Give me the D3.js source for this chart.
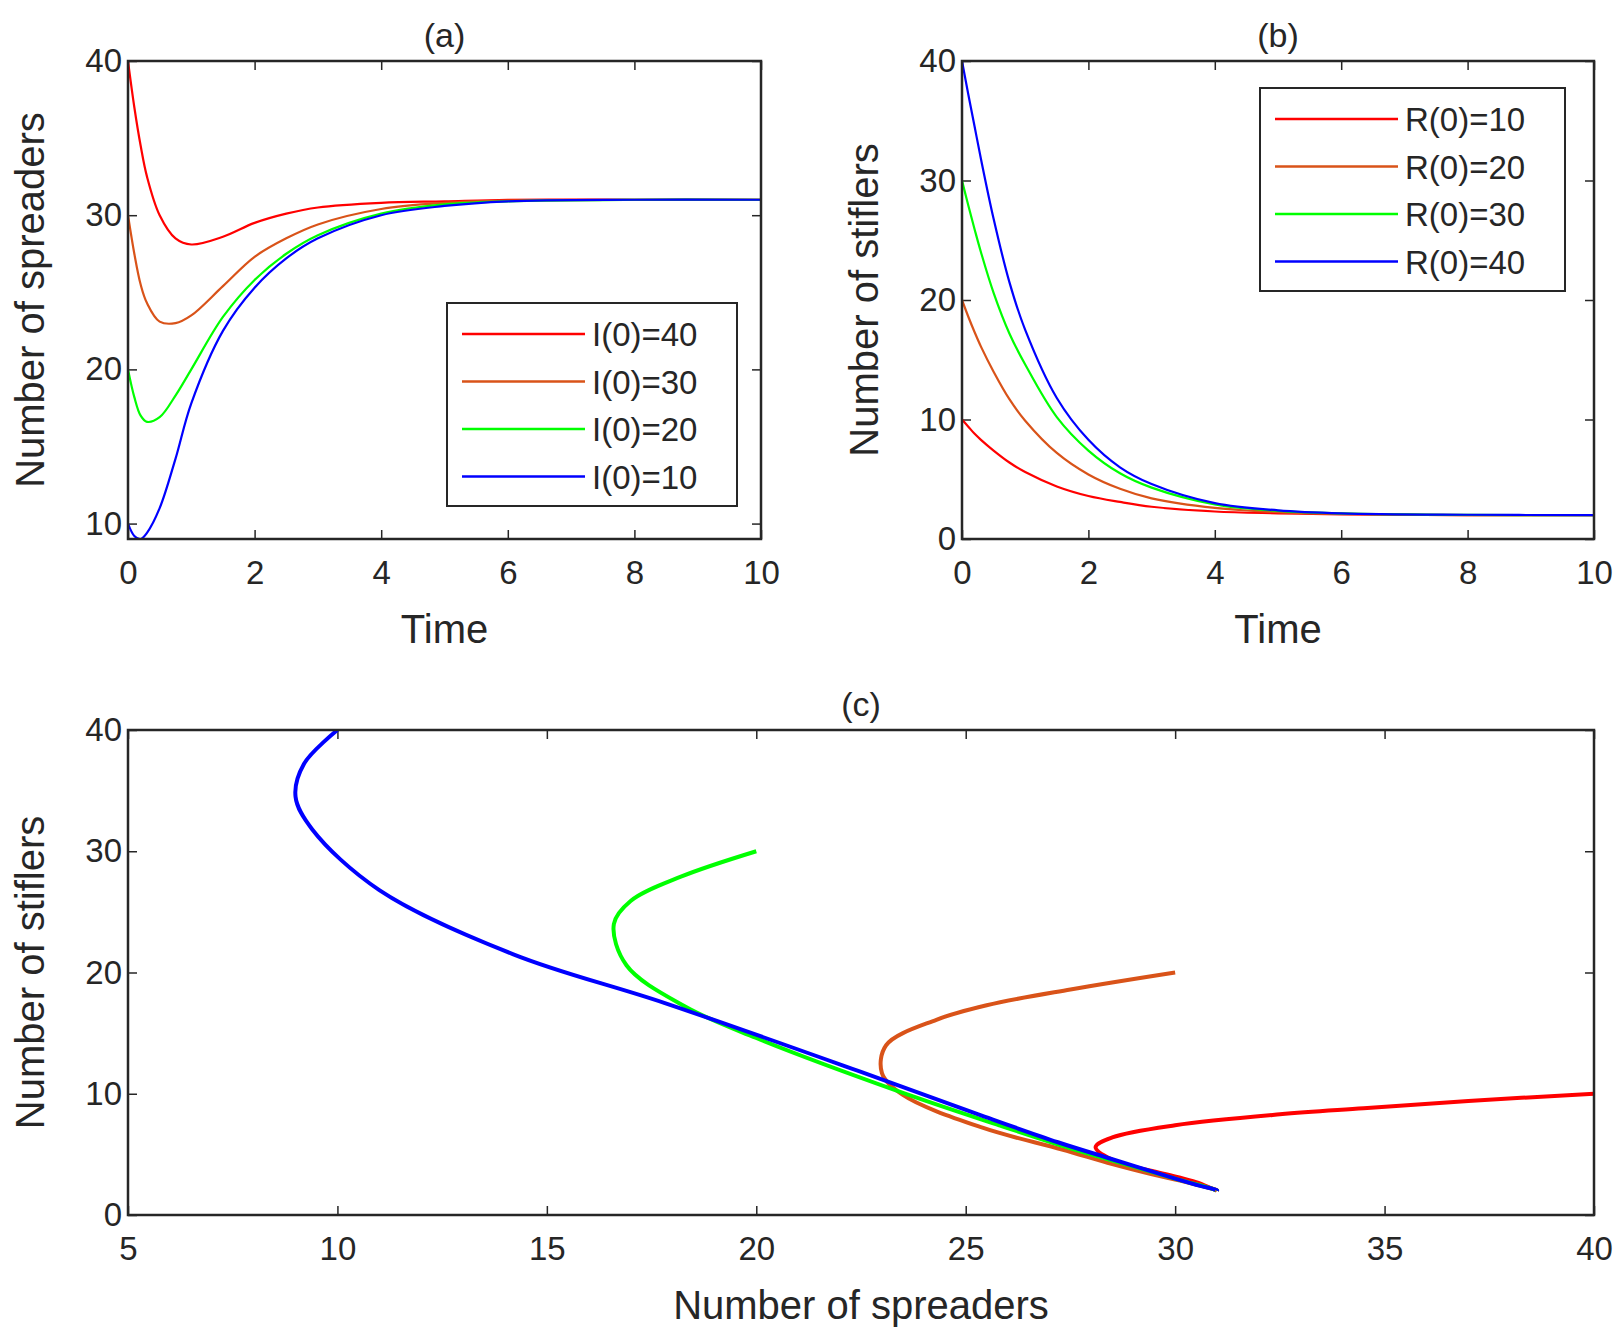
<!DOCTYPE html>
<html><head><meta charset="utf-8">
<script src="https://cdn.jsdelivr.net/npm/d3@7"></script>
<style>body{margin:0;background:#fff}text{font-family:"Liberation Sans",Arial,sans-serif;fill:#262626}</style>
</head><body><svg id="c" width="1621" height="1342"></svg>
<script>
// sampled time points
var times = [0,0.1,0.2,0.3,0.5,0.75,1,1.5,2,2.5,3,4,5,6,8,10];
var colors = ["#ff0000","#d95319","#00ff00","#0000ff"];
// spreaders I(t)
var I40 = [40,37,34.5,32.5,30,28.5,28.1,28.6,29.5,30.1,30.5,30.8,30.9,31,31,31];
var I30 = [30,27.5,25.5,24.3,23.1,23.0,23.5,25.4,27.3,28.5,29.4,30.4,30.8,30.95,31,31];
var I20 = [20,18.2,17.0,16.6,16.9,18.3,20,23.4,25.8,27.5,28.7,30.1,30.7,30.9,31,31];
var I10 = [10,9.2,9.0,9.4,11.0,14.2,17.8,22.5,25.3,27.2,28.5,30.0,30.6,30.9,31,31];
// stiflers R(t)
var R10 = [10,9.4,8.8,8.3,7.4,6.4,5.6,4.4,3.6,3.1,2.7,2.3,2.15,2.05,2,2];
var R20 = [20,18.6,17.3,16.1,14,11.7,9.9,7.2,5.4,4.2,3.4,2.6,2.25,2.1,2,2];
var R30 = [30,27.9,25.9,24,20.6,17.2,14.6,10.2,7.4,5.5,4.3,2.9,2.35,2.15,2.02,2];
var R40 = [40,37.2,34.5,31.8,26.8,21.5,17.5,11.8,8.3,6.0,4.6,3.0,2.4,2.15,2.03,2];
var labelsA = ["I(0)=40","I(0)=30","I(0)=20","I(0)=10"];
var labelsB = ["R(0)=10","R(0)=20","R(0)=30","R(0)=40"];
var seriesI = [I40,I30,I20,I10], seriesR = [R10,R20,R30,R40];

var svg = d3.select("#c");

function panel(box, xd, yd, xt, yt, title, xlab, ylab) {
	var x = d3.scaleLinear().domain(xd).range([box.l, box.r]),
		y = d3.scaleLinear().domain(yd).range([box.b, box.t]),
		g = svg.append("g");
	var ax = function(sel, axis, tr) {
		sel.attr("transform", tr).call(axis);
		sel.select(".domain").remove();
		sel.selectAll(".tick line").attr("stroke","#262626").attr("stroke-width",1.5);
		sel.selectAll(".tick text").style("font-size","33px").attr("fill","#262626");
	};
	g.append("g").call(ax, d3.axisBottom(x).tickValues(xt).tickSize(-9).tickPadding(22), "translate(0,"+box.b+")");
	g.append("g").call(ax, d3.axisTop(x).tickValues(xt).tickSize(-9).tickFormat(""), "translate(0,"+box.t+")");
	g.append("g").call(ax, d3.axisLeft(y).tickValues(yt).tickSize(-9).tickPadding(6), "translate("+box.l+",0)");
	g.append("g").call(ax, d3.axisRight(y).tickValues(yt).tickSize(-9).tickFormat(""), "translate("+box.r+",0)");
	var mid = (box.l+box.r)/2;
	g.append("text").attr("x",mid).attr("y",box.t-14).attr("text-anchor","middle").style("font-size","34px").text(title);
	g.append("text").attr("x",mid).attr("y",box.b+104).attr("text-anchor","middle").style("font-size","40px").text(xlab);
	g.append("text").attr("transform","translate("+(box.l-84)+","+((box.t+box.b)/2)+") rotate(-90)").attr("text-anchor","middle").style("font-size","40px").text(ylab);
	var clip = "clip"+Math.round(box.l)+"_"+Math.round(box.t);
	svg.append("clipPath").attr("id",clip).append("rect").attr("x",box.l).attr("y",box.t).attr("width",box.r-box.l).attr("height",box.b-box.t);
	var lines = g.append("g").attr("clip-path","url(#"+clip+")");
	g.append("rect").attr("x",box.l).attr("y",box.t).attr("width",box.r-box.l).attr("height",box.b-box.t).attr("fill","none").attr("stroke","#262626").attr("stroke-width",2.5);
	return {x:x, y:y, g:g, lines:lines};
}

function legend(g, x0, y0, w, labels) {
	g.append("rect").attr("x",x0).attr("y",y0).attr("width",w).attr("height",203).attr("fill","#fff").attr("stroke","#262626").attr("stroke-width",2);
	labels.forEach(function(l,i){
		var yy = y0+31+i*47.5;
		g.append("line").attr("x1",x0+15).attr("x2",x0+138).attr("y1",yy).attr("y2",yy).attr("stroke",colors[i]).attr("stroke-width",2.5);
		g.append("text").attr("x",x0+145).attr("y",yy+12).style("font-size","33px").text(l);
	});
}

var pa = panel({l:128,r:761,t:61,b:539},[0,10],[9,40],[0,2,4,6,8,10],[10,20,30,40],"(a)","Time","Number of spreaders");
var pb = panel({l:962,r:1594,t:61,b:539},[0,10],[0,40],[0,2,4,6,8,10],[0,10,20,30,40],"(b)","Time","Number of stiflers");
var pc = panel({l:128,r:1594,t:730,b:1215},[5,40],[0,40],[5,10,15,20,25,30,35,40],[0,10,20,30,40],"(c)","Number of spreaders","Number of stiflers");

function draw(p, pts, col, w) {
	var line = d3.line().x(function(d){return p.x(d[0]);}).y(function(d){return p.y(d[1]);}).curve(d3.curveCatmullRom.alpha(0.5));
	p.lines.append("path").datum(pts).attr("d",line).attr("fill","none").attr("stroke",col).attr("stroke-width",w);
}
seriesI.forEach(function(s,i){ draw(pa, times.map(function(t,k){return [t,s[k]];}), colors[i], 2.2); });
seriesR.forEach(function(s,i){ draw(pb, times.map(function(t,k){return [t,s[k]];}), colors[i], 2.2); });
seriesI.forEach(function(s,i){ draw(pc, times.map(function(t,k){return [s[k],seriesR[i][k]];}), colors[i], 4); });

legend(pa.g, 447, 303, 290, labelsA);
legend(pb.g, 1260, 88, 305, labelsB);
</script></body></html>
